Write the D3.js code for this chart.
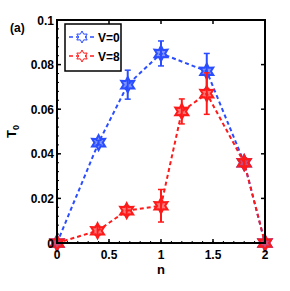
<!DOCTYPE html>
<html>
<head>
<meta charset="utf-8">
<script src="https://cdn.jsdelivr.net/npm/d3@7"></script>
<style>
  body { margin: 0; background: #fff; }
  svg text { font-family: Arial, "Liberation Sans", Helvetica, sans-serif; font-weight: bold; }
</style>
</head>
<body>
<div id="chart"></div>
<script>
// data
const nV0 = [0, 0.4, 0.68, 1.0, 1.44, 1.8, 2.0];
const tV0 = [0, 0.045, 0.071, 0.085, 0.077, 0.036, 0];
const errV0 = [0, 0.001, 0.0065, 0.0056, 0.008, 0.002, 0];

const nV8 = [0, 0.39, 0.67, 1.0, 1.2, 1.44, 1.8, 2.0];
const tV8 = [0, 0.0055, 0.0145, 0.0167, 0.059, 0.067, 0.036, 0];
const errV8 = [0, 0.002, 0.002, 0.0073, 0.0056, 0.0093, 0.002, 0];

const xTicks = [0, 0.5, 1, 1.5, 2];
const xTickLabels = ['0', '0.5', '1', '1.5', '2'];
const yTicks = [0, 0.02, 0.04, 0.06, 0.08, 0.1];
const yTickLabels = ['0', '0.02', '0.04', '0.06', '0.08', '0.1'];
const seriesNames = ['V=0', 'V=8'];
const seriesColors = ['#2a4dff', '#ff1a1a'];

const width = 290, height = 291;
const margin = {left: 57, right: 25, top: 20, bottom: 48};

const svg = d3.select('#chart').append('svg')
    .attr('width', width)
    .attr('height', height);

const x = d3.scaleLinear().domain([0, 2]).range([margin.left, width - margin.right]);
const y = d3.scaleLinear().domain([0, 0.1]).range([height - margin.bottom, margin.top]);

// six point star like matlab 'h' marker
function hexagram(r){
    let pts = [];
    for(let i = 0; i < 12; i++){
        let a = Math.PI / 6 * i - Math.PI / 2;
        let rr = i % 2 === 0 ? r : r * 0.55;
        pts.push([rr * Math.cos(a), rr * Math.sin(a)]);
    }
    return 'M' + pts.map(p => p.join(',')).join('L') + 'Z';
}

function drawSeries(nArr, tArr, eArr, color){
    let pts = nArr.map((n, i) => ({n: n, t: tArr[i], e: eArr[i]}));
    let g = svg.append('g');
    g.append('path')
        .datum(pts)
        .attr('fill', 'none')
        .attr('stroke', color)
        .attr('stroke-width', 2)
        .attr('stroke-dasharray', '4,3')
        .attr('d', d3.line().x(d => x(d.n)).y(d => y(d.t)));

    let bars = g.selectAll('.err').data(pts.filter(d => d.e > 0)).enter().append('g');
    bars.append('line')
        .attr('x1', d => x(d.n)).attr('x2', d => x(d.n))
        .attr('y1', d => y(d.t - d.e)).attr('y2', d => y(d.t + d.e))
        .attr('stroke', color).attr('stroke-width', 2);
    [-1, 1].forEach(s => {
        bars.append('line')
            .attr('x1', d => x(d.n) - 3).attr('x2', d => x(d.n) + 3)
            .attr('y1', d => y(d.t + s * d.e)).attr('y2', d => y(d.t + s * d.e))
            .attr('stroke', color).attr('stroke-width', 1.5);
    });

    g.selectAll('.mk').data(pts).enter().append('path')
        .attr('transform', d => 'translate(' + x(d.n) + ',' + y(d.t) + ')')
        .attr('d', hexagram(7.5))
        .attr('fill', color)
        .attr('fill-opacity', 0.6)
        .attr('stroke', color)
        .attr('stroke-width', 2);
}

drawSeries(nV0, tV0, errV0, seriesColors[0]);
drawSeries(nV8, tV8, errV8, seriesColors[1]);

// frame and ticks
const x0 = x(0), x1 = x(2), y0 = y(0), y1 = y(0.1);
const axes = svg.append('g');

// minor ticks on left and bottom
d3.range(0, 2.0001, 0.1).forEach(v => {
    axes.append('line').attr('x1', x(v)).attr('x2', x(v)).attr('y1', y0).attr('y2', y0 - 2)
        .attr('stroke', '#000').attr('stroke-width', 1);
});
d3.range(0, 0.1001, 0.004).forEach(v => {
    axes.append('line').attr('x1', x0).attr('x2', x0 + 2).attr('y1', y(v)).attr('y2', y(v))
        .attr('stroke', '#000').attr('stroke-width', 1);
});

xTicks.forEach(v => {
    axes.append('line').attr('x1', x(v)).attr('x2', x(v)).attr('y1', y0).attr('y2', y0 - 4)
        .attr('stroke', '#000').attr('stroke-width', 1.5);
    axes.append('line').attr('x1', x(v)).attr('x2', x(v)).attr('y1', y1).attr('y2', y1 + 4)
        .attr('stroke', '#000').attr('stroke-width', 1.5);
});
yTicks.forEach(v => {
    axes.append('line').attr('x1', x0).attr('x2', x0 + 4).attr('y1', y(v)).attr('y2', y(v))
        .attr('stroke', '#000').attr('stroke-width', 1.5);
    axes.append('line').attr('x1', x1).attr('x2', x1 - 4).attr('y1', y(v)).attr('y2', y(v))
        .attr('stroke', '#000').attr('stroke-width', 1.5);
});

axes.append('rect')
    .attr('x', x0).attr('y', y1)
    .attr('width', x1 - x0).attr('height', y0 - y1)
    .attr('fill', 'none').attr('stroke', '#000').attr('stroke-width', 2);

// tick labels
svg.selectAll('.xl').data(xTicks).enter().append('text')
    .attr('x', d => x(d)).attr('y', y0 + 16)
    .attr('text-anchor', 'middle').attr('font-size', 12)
    .text((d, i) => xTickLabels[i]);
svg.selectAll('.yl').data(yTicks).enter().append('text')
    .attr('x', x0 - 3).attr('y', d => y(d) + 4.5)
    .attr('text-anchor', 'end').attr('font-size', 12)
    .text((d, i) => yTickLabels[i]);

// axis titles
svg.append('text').attr('x', x(1)).attr('y', y0 + 31)
    .attr('text-anchor', 'middle').attr('font-size', 13).text('n');
const yl = svg.append('text')
    .attr('transform', 'translate(16,' + y(0.05) + ') rotate(-90)')
    .attr('text-anchor', 'middle').attr('font-size', 13);
yl.append('tspan').text('T');
yl.append('tspan').attr('font-size', 9).attr('dy', 3).text('0');

svg.append('text').attr('x', 10).attr('y', 32).attr('font-size', 12).text('(a)');

// legend
const lg = svg.append('g').attr('transform', 'translate(65,24)');
lg.append('rect').attr('width', 56).attr('height', 47)
    .attr('fill', '#fff').attr('stroke', '#000').attr('stroke-width', 1.5);
seriesNames.forEach((name, i) => {
    let ly = 13 + i * 19;
    lg.append('line').attr('x1', 4).attr('x2', 30).attr('y1', ly).attr('y2', ly)
        .attr('stroke', seriesColors[i]).attr('stroke-width', 1.5).attr('stroke-dasharray', '4,3');
    lg.append('path').attr('transform', 'translate(17,' + ly + ')')
        .attr('d', hexagram(6))
        .attr('fill', '#fff').attr('stroke', seriesColors[i]).attr('stroke-width', 1);
    lg.append('text').attr('x', 33).attr('y', ly + 4.5).attr('font-size', 12).text(name);
});
</script>
</body>
</html>
